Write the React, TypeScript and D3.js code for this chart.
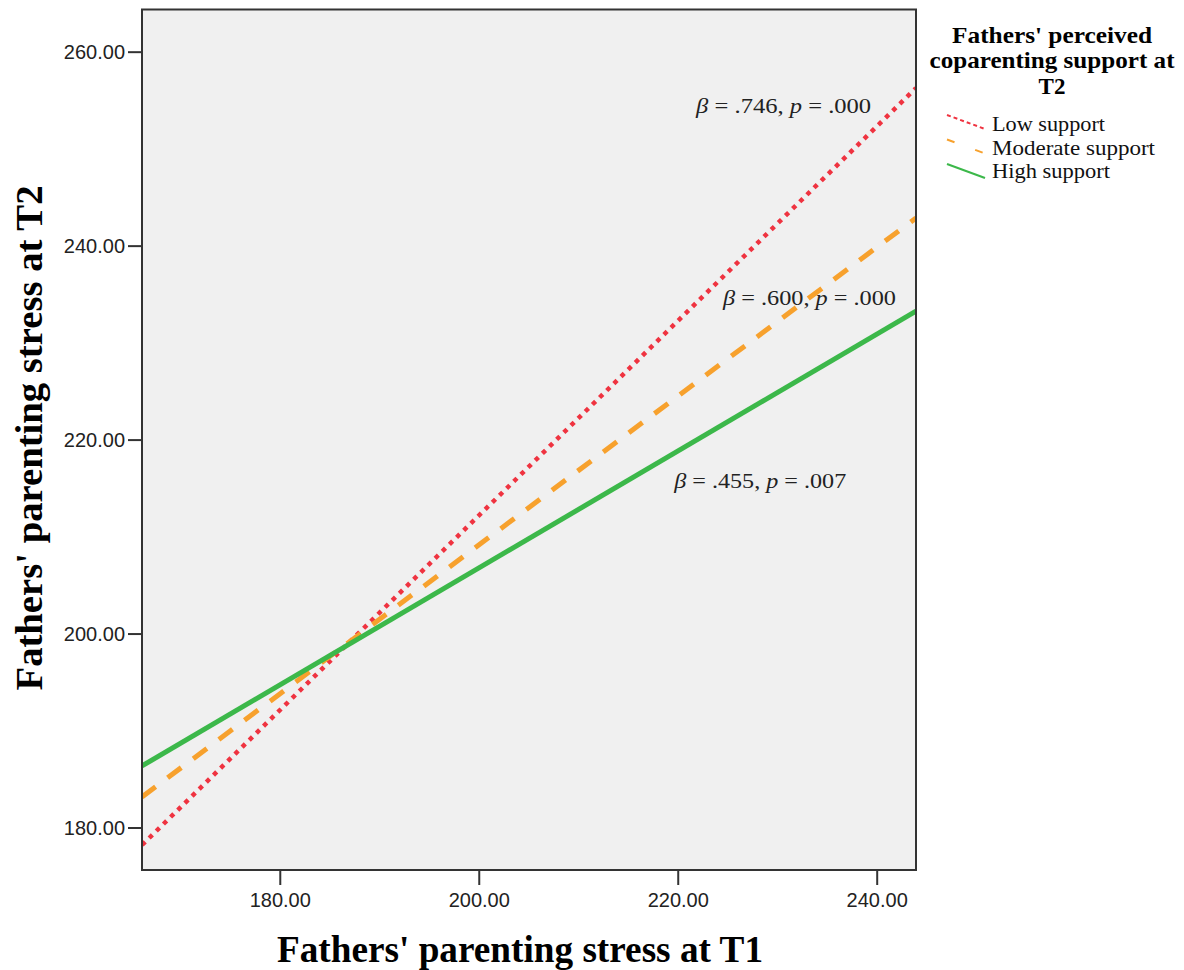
import React from "react";
import * as d3 from "d3";

const xDomain = [166.1, 243.9];
const yDomain = [175.67, 264.4];
const xTicks = [180, 200, 220, 240];
const yTicks = [180, 200, 220, 240, 260];
const xEndpoints = [166.1, 243.9];
const seriesNames = ["Low support", "Moderate support", "High support"];
const lowValues = [178.25, 256.3];
const moderateValues = [183.2, 242.9];
const highValues = [186.4, 233.3];
const annotationBetas = [".746", ".600", ".455"];
const annotationPs = [".000", ".000", ".007"];
const annotationX = [221.8, 224.5, 219.6];
const annotationY = [253.7, 233.9, 215.05];

const seriesValues = [lowValues, moderateValues, highValues];
const colors = ["#ef3340", "#f7a12d", "#3cb84a"];
const dashes = ["4.5 5.5", "17 15", null];
const widths = [4.5, 5, 5];
const legendDashes = ["4 3", "8 22", null];
const legendTextLengths = [113, 163, 118];
const annotationLengths = [175, 173, 172];

export default function App() {
  const L = 142, R = 916, T = 9.5, B = 870;
  const x = d3.scaleLinear().domain(xDomain).range([L, R]);
  const y = d3.scaleLinear().domain(yDomain).range([B, T]);
  const line = d3
    .line<[number, number]>()
    .x((d) => x(d[0]))
    .y((d) => y(d[1]));

  const serif = "'Liberation Serif', 'Times New Roman', serif";
  const sans = "'Liberation Sans', Arial, sans-serif";

  return (
    <svg
      width={1184}
      height={970}
      style={{ position: "absolute", left: 0, top: 0, background: "#fff" }}
    >
      <defs>
        <clipPath id="plotclip">
          <rect x={L} y={T} width={R - L} height={B - T} />
        </clipPath>
      </defs>
      <rect x={L} y={T} width={R - L} height={B - T} fill="#f0f0f0" />
      <g clipPath="url(#plotclip)">
        {seriesValues.map((vals, i) => (
          <path
            key={i}
            d={line(xEndpoints.map((xv, j) => [xv, vals[j]]) as [number, number][]) || ""}
            fill="none"
            stroke={colors[i]}
            strokeWidth={widths[i]}
            strokeDasharray={dashes[i] || undefined}
          />
        ))}
      </g>
      <rect
        x={L}
        y={T}
        width={R - L}
        height={B - T}
        fill="none"
        stroke="#333"
        strokeWidth={2}
      />
      {yTicks.map((t) => (
        <g key={t}>
          <line x1={128} x2={L} y1={y(t)} y2={y(t)} stroke="#333" strokeWidth={2} />
          <text
            x={125}
            y={y(t) + 7}
            textAnchor="end"
            fontFamily={sans}
            fontSize={20}
            fill="#222"
          >
            {t.toFixed(2)}
          </text>
        </g>
      ))}
      {xTicks.map((t) => (
        <g key={t}>
          <line x1={x(t)} x2={x(t)} y1={B} y2={B + 15} stroke="#333" strokeWidth={2} />
          <text
            x={x(t)}
            y={907}
            textAnchor="middle"
            fontFamily={sans}
            fontSize={20}
            fill="#222"
          >
            {t.toFixed(2)}
          </text>
        </g>
      ))}
      <text
        x={520}
        y={962}
        textAnchor="middle"
        fontFamily={serif}
        fontWeight="bold"
        fontSize={37}
        textLength={486}
        lengthAdjust="spacingAndGlyphs"
      >
        Fathers' parenting stress at T1
      </text>
      <text
        transform={`translate(42,438) rotate(-90)`}
        textAnchor="middle"
        fontFamily={serif}
        fontWeight="bold"
        fontSize={37}
        textLength={505}
        lengthAdjust="spacingAndGlyphs"
      >
        Fathers' parenting stress at T2
      </text>
      {annotationBetas.map((b, i) => (
        <text
          key={i}
          x={x(annotationX[i])}
          y={y(annotationY[i])}
          fontFamily={serif}
          fontSize={21}
          fill="#222"
          textLength={annotationLengths[i]}
          lengthAdjust="spacingAndGlyphs"
        >
          <tspan fontStyle="italic">β</tspan>
          {` = ${b}, `}
          <tspan fontStyle="italic">p</tspan>
          {` = ${annotationPs[i]}`}
        </text>
      ))}
      <g fontFamily={serif}>
        <text x={1052} y={43} textAnchor="middle" fontWeight="bold" fontSize={23} textLength={200} lengthAdjust="spacingAndGlyphs">
          Fathers' perceived
        </text>
        <text x={1052} y={68} textAnchor="middle" fontWeight="bold" fontSize={23} textLength={245} lengthAdjust="spacingAndGlyphs">
          coparenting support at
        </text>
        <text x={1052} y={94} textAnchor="middle" fontWeight="bold" fontSize={23}>
          T2
        </text>
        {seriesNames.map((n, i) => (
          <g key={n}>
            <line
              x1={947}
              y1={115 + i * 24.5}
              x2={985}
              y2={129 + i * 24.5}
              stroke={colors[i]}
              strokeWidth={2}
              strokeDasharray={legendDashes[i] || undefined}
            />
            <text
              x={992}
              y={131 + i * 23.5}
              fontSize={21}
              fill="#111"
              textLength={legendTextLengths[i]}
              lengthAdjust="spacingAndGlyphs"
            >
              {n}
            </text>
          </g>
        ))}
      </g>
    </svg>
  );
}
